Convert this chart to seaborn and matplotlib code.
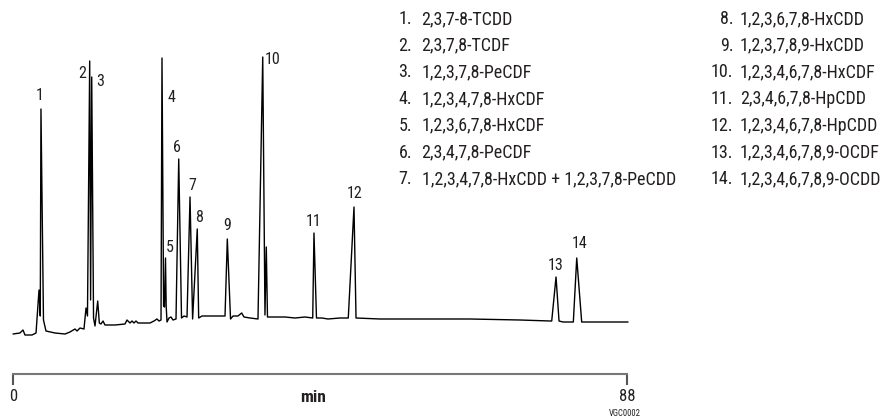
import matplotlib
matplotlib.use("Agg")
import matplotlib.pyplot as plt
from matplotlib import font_manager as fm
import seaborn as sns
import pandas as pd

# ---------------- data ----------------
# chromatogram trace: retention time (min) and detector signal (arbitrary units)
time_min = [-0.07, 0.93, 1.36, 1.65, 2.65, 3.23, 3.66, 3.84, 3.94, 4.30, 4.66,
            5.95, 7.39, 8.10, 8.82, 9.11, 9.54, 10.11, 10.40, 10.61, 10.93, 11.06,
            11.22, 11.48, 11.69, 12.08, 12.31, 12.55, 12.84, 13.12, 14.56, 15.99,
            16.28, 16.71, 17.00, 17.28, 17.57, 17.86, 19.58, 20.15, 20.58, 20.87,
            21.16, 21.30, 21.53, 21.66, 21.80, 21.90, 22.02, 22.31, 22.59, 22.88,
            23.31, 23.70, 24.10, 24.46, 24.89, 25.32, 25.69, 26.36, 26.56, 27.04,
            28.18, 29.62, 30.34, 30.67, 31.13, 31.49, 32.20, 32.73, 33.06, 33.92,
            35.07, 35.75, 36.07, 36.26, 36.43, 37.51, 38.94, 40.38, 41.81, 42.92,
            43.10, 43.46, 44.25, 45.11, 46.83, 48.02, 48.84, 49.13, 52.57, 58.31,
            65.48, 72.65, 76.96, 77.20, 77.82, 78.25, 78.82, 80.30, 80.79, 81.50,
            84.13, 88.15]
signal = [6, 7, 10, 5, 5, 7, 50, 24, 231, 20, 9,
          7, 6, 8, 11, 9, 12, 11, 32, 24, 279, 40,
          263, 22, 14, 39, 17, 16, 19, 15, 15, 16,
          20, 17, 19, 17, 19, 17, 17, 19, 21, 19,
          20, 282, 34, 33, 82, 34, 18, 22, 23, 20,
          21, 181, 22, 24, 23, 143, 21, 111, 22, 24,
          24, 24, 24, 101, 21, 24, 24, 27, 23, 22,
          21, 283, 25, 93, 23, 23, 23, 22, 23, 22,
          107, 22, 22, 21, 22, 22, 133, 22, 21, 21,
          21, 20, 19, 19, 63, 19, 18, 18, 82, 18,
          18, 18]

# peak apexes (retention time, signal) and their numbers
peak_numbers = ["1", "2", "3", "4", "5", "6", "7", "8", "9", "10", "11", "12", "13", "14"]
peak_times = [3.94, 10.93, 11.22, 21.30, 21.80, 23.70, 25.32, 26.36, 30.67, 35.75,
              43.10, 48.84, 77.82, 80.79]
peak_heights = [231, 279, 263, 282, 82, 181, 143, 111, 101, 283, 107, 133, 63, 82]

compounds = ["2,3,7-8-TCDD", "2,3,7,8-TCDF", "1,2,3,7,8-PeCDF", "1,2,3,4,7,8-HxCDF",
             "1,2,3,6,7,8-HxCDF", "2,3,4,7,8-PeCDF",
             "1,2,3,4,7,8-HxCDD + 1,2,3,7,8-PeCDD",
             "1,2,3,6,7,8-HxCDD", "1,2,3,7,8,9-HxCDD", "1,2,3,4,6,7,8-HxCDF",
             "2,3,4,6,7,8-HpCDD", "1,2,3,4,6,7,8-HpCDD", "1,2,3,4,6,7,8,9-OCDF",
             "1,2,3,4,6,7,8,9-OCDD"]

axis_ticks = [0, 88]
axis_label = "min"
code_text = "VGC0002"

# ---------------- style / layout ----------------
sns.set_theme(style="white")
plt.rcParams["font.family"] = ["Roboto", "DejaVu Sans"]
TXT = "#231f20"


def find_condensed(bold=False):
    """Look for an installed narrow/condensed sans face."""
    cands = []
    for f in fm.fontManager.ttflist:
        nm = f.name.lower()
        fn = f.fname.lower()
        narrow = ("narrow" in nm or "condensed" in nm or "narrow" in fn
                  or "condensed" in fn or f.stretch in ("condensed", "semi-condensed",
                                                        "extra-condensed", 75, 87, 62))
        if not narrow or "italic" in fn or "oblique" in fn or "mono" in fn or "serif" in nm and "sans" not in nm:
            continue
        isbold = (f.weight in ("bold", 700, "heavy", 800, "black", 900)
                  or "bold" in fn)
        if isbold != bold:
            continue
        rank = 0 if "liberation" in fn else 1 if "roboto" in fn else 2 if "dejavu" in fn else 3
        cands.append((rank, f.fname))
    cands.sort()
    return cands[0][1] if cands else None


reg_path = find_condensed(False)
bold_path = find_condensed(True)
CONDENSED = reg_path is not None


def fp(size, bold=False):
    path = bold_path if bold else reg_path
    if path is not None:
        return fm.FontProperties(fname=path, size=size)
    return fm.FontProperties(family=["Roboto", "DejaVu Sans"], size=size,
                             weight="bold" if bold else "normal", stretch="condensed")


scale = 1.0 if CONDENSED else 0.9

# label offsets in pixels (dx, dy) relative to each peak apex
label_offsets = [(-1, 14), (-8, -12), (8, -4), (10, -40), (4.5, 11), (-1.4, 12),
                 (2, 12), (2, 12), (0, 13), (10, -2), (0, 11), (1, 14), (0, 12), (2.6, 15)]

fig = plt.figure(figsize=(8.89, 4.2), dpi=100)
ax = fig.add_axes([0, 0, 1, 1])

df = pd.DataFrame({"time": time_min, "signal": signal})
sns.lineplot(data=df, x="time", y="signal", ax=ax, color="black", linewidth=1.0,
             sort=False, estimator=None)

ax.set_xlim(-1.936, 125.58)
ax.set_ylim(-80, 340)

for lab, t, h, (dx, dy) in zip(peak_numbers, peak_times, peak_heights, label_offsets):
    ax.annotate(lab, xy=(t, h), xytext=(dx, dy), textcoords="offset pixels",
                ha="center", va="center", fontproperties=fp(11.5 * scale), color=TXT)

# time axis as bracket
for side in ["top", "left", "right"]:
    ax.spines[side].set_visible(False)
ax.spines["bottom"].set_position(("data", -34))
ax.spines["bottom"].set_bounds(axis_ticks[0], axis_ticks[-1])
ax.spines["bottom"].set_color("#777777")
ax.spines["bottom"].set_linewidth(1.5)
ax.set_xticks(axis_ticks)
ax.set_xticklabels([str(v) for v in axis_ticks])
ax.tick_params(axis="x", direction="out", length=8, width=1.5, color="#555555",
               pad=2.5, labelcolor=TXT, bottom=True)
for tl in ax.get_xticklabels():
    tl.set_fontproperties(fp(12 * scale))
ax.set_yticks([])
ax.set_xlabel("")
ax.set_ylabel("")
ax.text(43.0, -57.7, axis_label, ha="center", va="center",
        fontproperties=fp(12.5 * scale, bold=True), color=TXT)

# compound legend
row_y0, row_dy = 19, 26.7
cols = [(412, 421.5), (733.5, 740)]
for i, name in enumerate(compounds):
    col = 0 if i < 7 else 1
    r = i if i < 7 else i - 7
    xn, xt = cols[col]
    y = 420 - (row_y0 + r * row_dy)
    fig.text(xn / 889, y / 420, f"{i + 1}.", ha="right", va="center",
             fontproperties=fp(13 * scale), color=TXT)
    fig.text(xt / 889, y / 420, name, ha="left", va="center",
             fontproperties=fp(13 * scale), color=TXT)

fig.text(625 / 889, (420 - 409) / 420, code_text, ha="center", va="top",
         fontproperties=fp(6.2), color=TXT)

fig.savefig("out.png", dpi=100)
